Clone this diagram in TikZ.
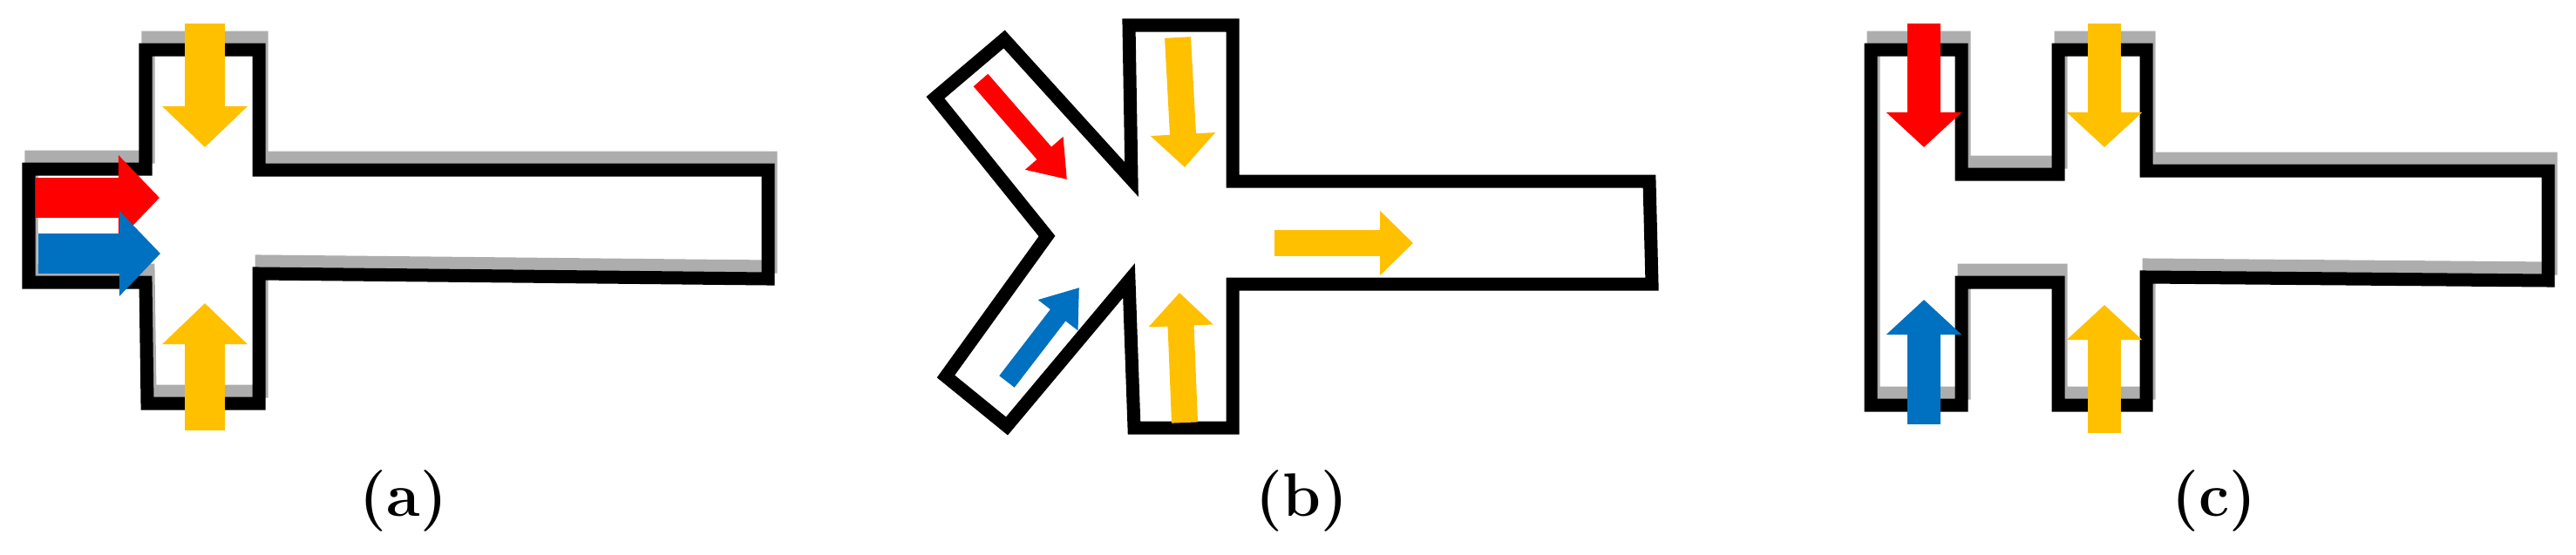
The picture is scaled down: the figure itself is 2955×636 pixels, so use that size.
\documentclass[tikz,border=0pt]{standalone}
\usetikzlibrary{arrows.meta}
\definecolor{ared}{RGB}{255,0,0}
\definecolor{ablue}{RGB}{0,112,192}
\definecolor{ayel}{RGB}{255,192,0}
\begin{document}
\begin{tikzpicture}[x=0.01cm,y=-0.01cm,
  wall/.style={line width=0.15cm,line join=miter,black},
  shadow/.style={line width=0.15cm,black!40,opacity=0.8},
  big/.style={line width=0.45cm,line cap=butt,-{Triangle[length=0.47cm,width=0.95cm]}},
  mid/.style={line width=0.38cm,line cap=butt,-{Triangle[length=0.40cm,width=0.84cm]}},
  small/.style={line width=0.30cm,line cap=butt,-{Triangle[length=0.38cm,width=0.72cm]}},
  thin/.style={line width=0.22cm,line cap=butt,-{Triangle[length=0.40cm,width=0.55cm]}},
  lab/.style={font=\fontsize{20}{24}\selectfont\bfseries}]
\useasboundingbox (0,0) rectangle (2955,636);
% ---------- (a)
\draw[shadow,shift={(3,-14)}] (33,194) -- (167,194) -- (167,57) -- (297,57) -- (297,195) -- (881,195) -- (881,320) -- (297,314) -- (297,463) -- (169,463) -- (167,324) -- (33,324) -- cycle;
\draw[wall] (33,194) -- (167,194) -- (167,57) -- (297,57) -- (297,195) -- (881,195) -- (881,320) -- (297,314) -- (297,463) -- (169,463) -- (167,324) -- (33,324) -- cycle;
\draw[big,ayel] (235,27) -- (235,169);
\draw[big,ayel] (235,494) -- (235,348);
\draw[big,ared] (41,227) -- (183,227);
\draw[big,ablue] (44,291) -- (184,291);
\node[lab] (la) at (463,575) {(a)};
% ---------- (b)
\draw[wall] (1152,45) -- (1073,112) -- (1201,271) -- (1085,432) -- (1155,489) -- (1295,322) -- (1301,491) -- (1414,491) -- (1414,326) -- (1895,326) -- (1892,208) -- (1414,208) -- (1414,29) -- (1295,29) -- (1298,206) -- cycle;
\draw[thin,ared] (1125,92) -- (1224,206);
\draw[thin,ablue] (1155,438) -- (1238,330);
\draw[small,ayel] (1351,43) -- (1359,192);
\draw[small,ayel] (1359,485) -- (1353,336);
\draw[small,ayel] (1462,279) -- (1621,279);
\node[lab] (lb) at (1493,575) {(b)};
% ---------- (c)
\draw[shadow,shift={(3,-14)}] (2146,57) -- (2250,57) -- (2250,200) -- (2361,200) -- (2361,57) -- (2462,57) -- (2462,196) -- (2923,196) -- (2923,322) -- (2462,318) -- (2462,465) -- (2361,465) -- (2361,324) -- (2250,324) -- (2250,465) -- (2146,465) -- cycle;
\draw[wall] (2146,57) -- (2250,57) -- (2250,200) -- (2361,200) -- (2361,57) -- (2462,57) -- (2462,196) -- (2923,196) -- (2923,322) -- (2462,318) -- (2462,465) -- (2361,465) -- (2361,324) -- (2250,324) -- (2250,465) -- (2146,465) -- cycle;
\draw[mid,ared] (2207,27) -- (2207,169);
\draw[mid,ablue] (2207,487) -- (2207,344);
\draw[mid,ayel] (2414,27) -- (2414,169);
\draw[mid,ayel] (2414,497) -- (2414,350);
\node[lab] (lc) at (2540,575) {(c)};
\end{tikzpicture}
\end{document}
